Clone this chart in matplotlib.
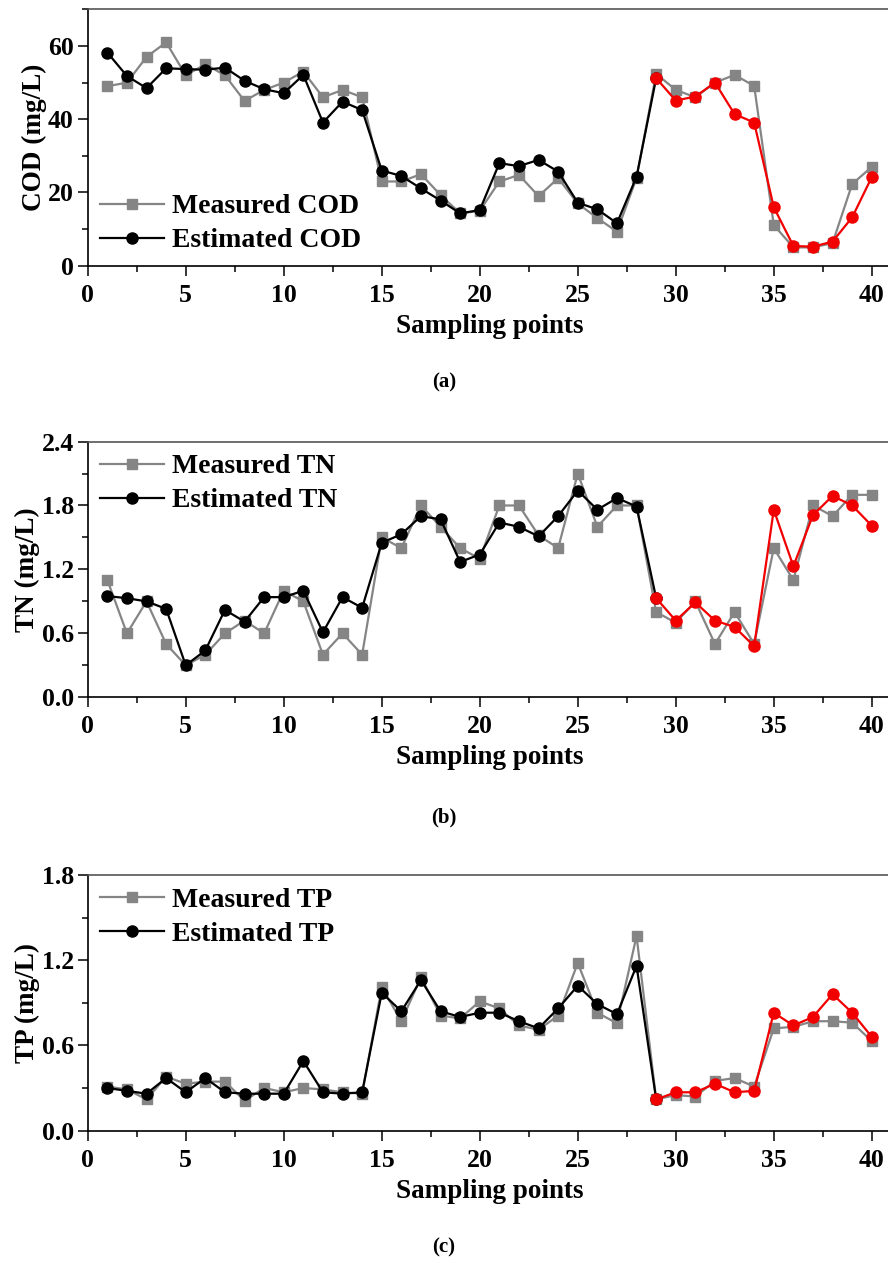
import matplotlib
matplotlib.use("Agg")
from matplotlib import pyplot as plt
from matplotlib.ticker import MultipleLocator
import numpy as np

# DATA
sampling_points = list(range(1, 41))
split_point = 29  # estimates from here on are drawn in red

cod_measured = [49, 50, 57, 61, 52, 55, 52, 45, 48, 50,
                53, 46, 48, 46, 23, 23, 25, 19.3, 14.3, 15,
                23, 24.8, 19, 23.9, 17, 13, 9.3, 24, 52.4, 48,
                46, 50, 52.1, 49.1, 11.1, 5, 5, 6.2, 22.3, 27]
cod_estimated = [58.2, 51.8, 48.5, 53.9, 53.7, 53.5, 54.1, 50.5, 48.2, 47.1,
                 52.1, 39.1, 44.8, 42.5, 26, 24.5, 21.1, 17.8, 14.3, 15.2,
                 28, 27.2, 28.9, 25.7, 17.2, 15.4, 11.6, 24.3, 51.2, 45.1,
                 46.2, 50, 41.4, 39.1, 16, 5.4, 5.2, 6.6, 13.2, 24.2]

tn_measured = [1.10, 0.60, 0.90, 0.50, 0.30, 0.40, 0.60, 0.72, 0.60, 1.00,
               0.90, 0.40, 0.60, 0.40, 1.50, 1.40, 1.80, 1.60, 1.40, 1.30,
               1.80, 1.80, 1.52, 1.40, 2.10, 1.60, 1.80, 1.80, 0.80, 0.70,
               0.90, 0.50, 0.80, 0.50, 1.40, 1.10, 1.80, 1.70, 1.90, 1.90]
tn_estimated = [0.95, 0.93, 0.90, 0.83, 0.30, 0.44, 0.82, 0.71, 0.94, 0.94,
                1.00, 0.61, 0.94, 0.84, 1.45, 1.53, 1.70, 1.67, 1.27, 1.34,
                1.64, 1.60, 1.51, 1.70, 1.94, 1.76, 1.87, 1.79, 0.93, 0.72,
                0.89, 0.72, 0.66, 0.48, 1.76, 1.23, 1.71, 1.89, 1.80, 1.61]

tp_measured = [0.31, 0.29, 0.22, 0.38, 0.33, 0.345, 0.345, 0.21, 0.30, 0.27,
               0.30, 0.29, 0.27, 0.26, 1.01, 0.77, 1.08, 0.81, 0.79, 0.91,
               0.86, 0.74, 0.71, 0.81, 1.18, 0.83, 0.755, 1.37, 0.22, 0.25,
               0.24, 0.35, 0.37, 0.31, 0.72, 0.73, 0.77, 0.77, 0.76, 0.63]
tp_estimated = [0.30, 0.28, 0.26, 0.37, 0.27, 0.37, 0.27, 0.26, 0.26, 0.26,
                0.49, 0.27, 0.26, 0.27, 0.97, 0.84, 1.06, 0.84, 0.80, 0.83,
                0.83, 0.77, 0.72, 0.86, 1.02, 0.89, 0.82, 1.16, 0.22, 0.27,
                0.27, 0.33, 0.27, 0.28, 0.83, 0.74, 0.80, 0.96, 0.83, 0.66]

panels = [
    ("COD", cod_measured, cod_estimated, (0, 70), 20, 10, "lower left", "(a)"),
    ("TN", tn_measured, tn_estimated, (0, 2.4), 0.6, 0.3, "upper left", "(b)"),
    ("TP", tp_measured, tp_estimated, (0, 1.8), 0.6, 0.3, "upper left", "(c)"),
]

# STYLING
plt.rcParams["font.family"] = ["Liberation Serif", "DejaVu Serif"]
plt.rcParams["font.weight"] = "bold"
plt.rcParams["axes.labelweight"] = "bold"

GRAY = "#858585"
RED = "#f20000"
TICK_SIZE = 18.5
LABEL_SIZE = 19.5
LEGEND_SIZE = 20

# axes geometry in figure fractions (left, width) and per panel (bottom, height)
LEFT, WIDTH = 0.0988, 0.905
BOXES = [(0.7896, 0.2030), (0.4479, 0.2025), (0.1048, 0.2025)]
TAG_Y = [0.697, 0.353, 0.012]

fig = plt.figure(figsize=(8.88, 12.63), dpi=100)

x = np.array(sampling_points)
for (name, measured, estimated, ylim, major, minor, loc, tag), (bottom, height), tag_y in zip(panels, BOXES, TAG_Y):
    ax = fig.add_axes([LEFT, bottom, WIDTH, height])
    est = np.array(estimated)
    k = sampling_points.index(split_point)

    ax.plot(x, measured, color=GRAY, lw=1.6, marker="s", ms=6.5,
            mec=GRAY, mfc=GRAY, label=f"Measured {name}", zorder=2)
    ax.plot(x[:k + 1], est[:k + 1], color="black", lw=1.6, marker="o", ms=8,
            label=f"Estimated {name}", zorder=3)
    ax.plot(x[k:], est[k:], color=RED, lw=1.6, marker="o", ms=8,
            mec=RED, mfc=RED, zorder=4)

    ax.set_xlim(0, 41)
    ax.set_ylim(*ylim)
    ax.xaxis.set_major_locator(MultipleLocator(5))
    ax.xaxis.set_minor_locator(MultipleLocator(2.5))
    ax.yaxis.set_major_locator(MultipleLocator(major))
    ax.yaxis.set_minor_locator(MultipleLocator(minor))
    if name == "COD":
        ax.yaxis.set_major_formatter(plt.FuncFormatter(lambda v, p: f"{v:.0f}"))
    else:
        ax.yaxis.set_major_formatter(plt.FuncFormatter(lambda v, p: f"{v:.1f}"))

    ax.tick_params(which="major", direction="out", length=7, width=1.1,
                   labelsize=TICK_SIZE, pad=3)
    ax.tick_params(axis="x", which="major", pad=6)
    ax.tick_params(which="minor", direction="out", length=4, width=1.1)
    ax.tick_params(top=False, right=False)
    for side in ["left", "bottom"]:
        ax.spines[side].set_linewidth(1.2)
    ax.spines["top"].set_color("#555555")
    ax.spines["top"].set_linewidth(1.2)
    ax.spines["right"].set_visible(False)

    ax.set_xlabel("Sampling points", fontsize=LABEL_SIZE, labelpad=5)
    ax.set_ylabel(f"{name} (mg/L)", fontsize=LABEL_SIZE, labelpad=1)

    ax.legend(loc=loc, frameon=False, fontsize=LEGEND_SIZE, handlelength=2.3,
              handletextpad=0.3, borderaxespad=0.15, labelspacing=0.3,
              borderpad=0.3)

    fig.text(0.5, tag_y, tag, ha="center", va="center", fontsize=15,
             fontweight="bold")

fig.savefig("out.png", dpi=100)
